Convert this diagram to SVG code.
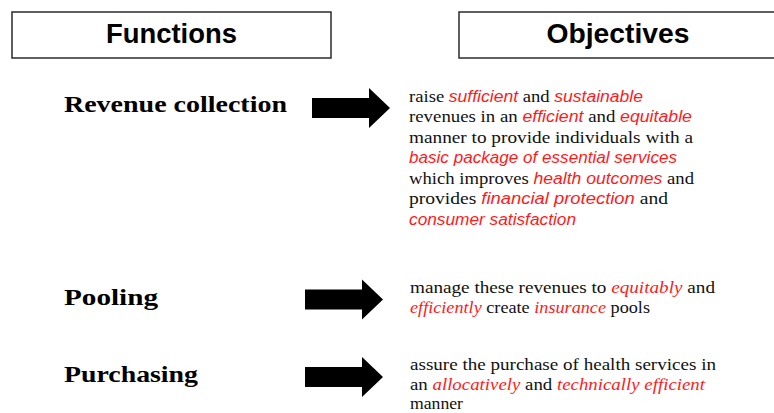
<svg xmlns="http://www.w3.org/2000/svg" xmlns:xlink="http://www.w3.org/1999/xlink" width="774" height="413" viewBox="0 0 774 413">
  <style>
    .hdr-box { fill: #ffffff; stroke: #2b2b2b; stroke-width: 1.5; }
    .hdr { font-family: "Liberation Sans", Arial, sans-serif; font-weight: bold; font-size: 27px; fill: #000; text-anchor: middle; }
    .fn { font-family: "Liberation Serif", "Times New Roman", serif; font-weight: bold; font-size: 23px; fill: #000; }
    .obj { font-family: "Liberation Serif", "Times New Roman", serif; font-size: 17px; fill: #111; }
    .em { fill: #ff1a1a; font-style: italic; }
    .em-sans { fill: #ff1a1a; font-style: italic; font-family: "Liberation Sans", Arial, sans-serif; font-size: 16px; }
    .arrow { fill: #000; }
  </style>
  <defs>
    <path id="block-arrow" d="M0,10 H57 V0 L78,20 L57,40 V30 H0 Z"/>
  </defs>

  <rect width="774" height="413" fill="#ffffff"/>

  <!-- column headers -->
  <g id="header-functions">
    <rect class="hdr-box" x="12" y="12" width="319" height="46"/>
    <text class="hdr" x="171.5" y="43" textLength="131" lengthAdjust="spacingAndGlyphs">Functions</text>
  </g>
  <g id="header-objectives">
    <rect class="hdr-box" x="459" y="12" width="320" height="46"/>
    <text class="hdr" x="618" y="43" textLength="143" lengthAdjust="spacingAndGlyphs">Objectives</text>
  </g>

  <!-- functions -->
  <g id="fn-revenue">
    <text class="fn" x="64" y="112" textLength="223" lengthAdjust="spacingAndGlyphs">Revenue collection</text>
  </g>
  <g id="fn-pooling">
    <text class="fn" x="64" y="305" textLength="94" lengthAdjust="spacingAndGlyphs">Pooling</text>
  </g>
  <g id="fn-purchasing">
    <text class="fn" x="64" y="382" textLength="134" lengthAdjust="spacingAndGlyphs">Purchasing</text>
  </g>

  <!-- objectives -->
  <g id="obj-revenue" class="obj">
    <text x="409" y="101.5" textLength="234" lengthAdjust="spacingAndGlyphs">raise <tspan class="em-sans">sufficient</tspan> and <tspan class="em-sans">sustainable</tspan></text>
    <text x="409" y="122" textLength="283" lengthAdjust="spacingAndGlyphs">revenues in an <tspan class="em-sans">efficient</tspan> and <tspan class="em-sans">equitable</tspan></text>
    <text x="409" y="142.5" textLength="284" lengthAdjust="spacingAndGlyphs">manner to provide individuals with a</text>
    <text x="409" y="163" textLength="268" lengthAdjust="spacingAndGlyphs"><tspan class="em-sans">basic package of essential services</tspan></text>
    <text x="409" y="183.5" textLength="285" lengthAdjust="spacingAndGlyphs">which improves <tspan class="em-sans">health outcomes</tspan> and</text>
    <text x="409" y="204" textLength="259" lengthAdjust="spacingAndGlyphs">provides <tspan class="em-sans">financial protection</tspan> and</text>
    <text x="409" y="224.5" textLength="167" lengthAdjust="spacingAndGlyphs"><tspan class="em-sans">consumer satisfaction</tspan></text>
  </g>
  <g id="obj-pooling" class="obj">
    <text x="410" y="293" textLength="305" lengthAdjust="spacingAndGlyphs">manage these revenues to <tspan class="em">equitably</tspan> and</text>
    <text x="410" y="312.5" textLength="240" lengthAdjust="spacingAndGlyphs"><tspan class="em">efficiently</tspan> create <tspan class="em">insurance</tspan> pools</text>
  </g>
  <g id="obj-purchasing" class="obj">
    <text x="410" y="370" textLength="306" lengthAdjust="spacingAndGlyphs">assure the purchase of health services in</text>
    <text x="410" y="389.5" textLength="295" lengthAdjust="spacingAndGlyphs">an <tspan class="em">allocatively</tspan> and <tspan class="em">technically efficient</tspan></text>
    <text x="410" y="409" textLength="53" lengthAdjust="spacingAndGlyphs">manner</text>
  </g>

  <!-- block arrows linking each function to its objective -->
  <g id="connectors" class="arrow">
    <use xlink:href="#block-arrow" href="#block-arrow" transform="translate(312,88)"/>
    <use xlink:href="#block-arrow" href="#block-arrow" transform="translate(305,279.5)"/>
    <use xlink:href="#block-arrow" href="#block-arrow" transform="translate(305,357)"/>
  </g>
</svg>
